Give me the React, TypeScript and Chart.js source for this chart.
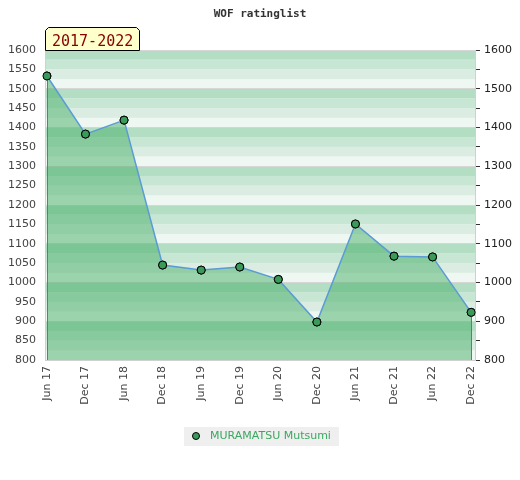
import React, { useEffect, useRef } from "react";
import { Chart, registerables } from "chart.js";

Chart.register(...registerables);

const chartTitle = "WOF ratinglist";
const periodLabel = "2017-2022";
const seriesName = "MURAMATSU Mutsumi";
const periodLabels = [
  "Jun 17", "Dec 17", "Jun 18", "Dec 18", "Jun 19", "Dec 19",
  "Jun 20", "Dec 20", "Jun 21", "Dec 21", "Jun 22", "Dec 22",
];
const ratings = [1533, 1383, 1419, 1045, 1032, 1040, 1008, 898, 1151, 1068, 1066, 923];
const yMin = 800;
const yMax = 1600;

const bandColors = ["#eff7f2", "#dbede2", "#c8e6d4", "#b3dec4"];

const decorPlugin = {
  id: "decor",
  beforeDraw(chart: any) {
    const { ctx, chartArea } = chart;
    const y = chart.scales.y;
    ctx.save();
    for (let lo = yMin; lo < yMax; lo += 25) {
      const idx = ((lo % 100) / 25) | 0;
      const top = y.getPixelForValue(lo + 25);
      const bot = y.getPixelForValue(lo);
      ctx.fillStyle = bandColors[idx];
      ctx.fillRect(chartArea.left, top, chartArea.right - chartArea.left, bot - top);
    }
    ctx.restore();
  },
  afterDatasetsDraw(chart: any) {
    const { ctx, chartArea } = chart;
    const meta = chart.getDatasetMeta(0);
    const pts = meta.data;
    ctx.save();
    ctx.strokeStyle = "#2e9e50";
    ctx.lineWidth = 1;
    [pts[0], pts[pts.length - 1]].forEach((p: any) => {
      ctx.beginPath();
      ctx.moveTo(Math.round(p.x) + 0.5, p.y);
      ctx.lineTo(Math.round(p.x) + 0.5, chartArea.bottom);
      ctx.stroke();
    });
    ctx.restore();
    meta.data.forEach((p: any) => p.draw(ctx, chartArea));
  },
  afterDraw(chart: any) {
    const { ctx, chartArea, width } = chart;
    ctx.save();
    ctx.fillStyle = "#333";
    ctx.font = "bold 11px 'DejaVu Sans Mono'";
    ctx.textAlign = "center";
    ctx.textBaseline = "alphabetic";
    ctx.fillText(chartTitle, width / 2, 17);

    const x0 = chartArea.left, x1 = chartArea.left + 95, y0 = 27, y1 = chartArea.top;
    ctx.beginPath();
    ctx.moveTo(x0 + 0.5, y1 + 0.5);
    ctx.lineTo(x0 + 0.5, y0 + 3.5);
    ctx.lineTo(x0 + 3.5, y0 + 0.5);
    ctx.lineTo(x1 - 3.5, y0 + 0.5);
    ctx.lineTo(x1 - 0.5, y0 + 3.5);
    ctx.lineTo(x1 - 0.5, y1 + 0.5);
    ctx.closePath();
    ctx.fillStyle = "#ffffcc";
    ctx.fill();
    ctx.strokeStyle = "#000";
    ctx.lineWidth = 1;
    ctx.stroke();
    ctx.fillStyle = "#880000";
    ctx.font = "15px 'DejaVu Sans Mono'";
    ctx.textAlign = "left";
    ctx.fillText(periodLabel, x0 + 7, 46);

    const ds = chart.data.datasets[0];
    ctx.font = "11px 'DejaVu Sans'";
    const tw = ctx.measureText(ds.label).width;
    const boxW = tw + 34;
    const bx = Math.round(width / 2 - boxW / 2 + 1);
    const by = 427;
    ctx.fillStyle = "#efefef";
    ctx.fillRect(bx, by, boxW, 19);
    ctx.beginPath();
    ctx.arc(bx + 12, by + 9, 3.5, 0, Math.PI * 2);
    ctx.fillStyle = ds.pointBackgroundColor;
    ctx.fill();
    ctx.strokeStyle = "#000";
    ctx.stroke();
    ctx.fillStyle = "#3aa860";
    ctx.textBaseline = "middle";
    ctx.fillText(ds.label, bx + 26, by + 9.5);
    ctx.restore();
  },
};

export default function App() {
  const ref = useRef<HTMLCanvasElement>(null);
  useEffect(() => {
    document.body.style.margin = "0";
    const canvas = ref.current!;
    const chart = new Chart(canvas, {
      type: "line",
      data: {
        datasets: [
          {
            label: seriesName,
            data: ratings.map((v, i) => ({ x: i, y: v })),
            borderColor: "#5b9bd5",
            borderWidth: 1.5,
            backgroundColor: "rgba(61,171,96,0.47)",
            fill: "start",
            tension: 0,
            pointRadius: 4,
            pointBackgroundColor: "#3a9a5a",
            pointBorderColor: "#000",
            pointBorderWidth: 1,
          },
        ],
      },
      options: {
        responsive: false,
        animation: false,
        devicePixelRatio: 1,
        layout: { padding: { top: 50, left: 0, right: 0, bottom: 0 } },
        plugins: {
          legend: { display: false },
          title: { display: false },
          tooltip: { enabled: false },
        },
        scales: {
          x: {
            type: "linear",
            min: -0.05,
            max: 11.1,
            afterBuildTicks: (s: any) => {
              s.ticks = periodLabels.map((_, i) => ({ value: i }));
            },
            afterFit: (s: any) => {
              s.height = 120;
            },
            ticks: {
              autoSkip: false,
              minRotation: 90,
              maxRotation: 90,
              padding: 6,
              color: "#444",
              font: { family: "'DejaVu Sans'", size: 11 },
              callback: (v: any) => periodLabels[Math.round(v)] ?? "",
            },
            grid: { drawOnChartArea: false, drawTicks: false },
            border: { display: true, color: "#d0d0d0" },
          },
          y: {
            position: "left",
            min: yMin,
            max: yMax,
            afterFit: (s: any) => {
              s.width = 45;
            },
            ticks: {
              stepSize: 50,
              padding: 9,
              color: "#444",
              font: { family: "'DejaVu Sans'", size: 11 },
              callback: (v: any) => String(v),
            },
            grid: {
              drawTicks: false,
              color: (c: any) => (c.tick && c.tick.value % 100 === 0 ? "#d6d6d6" : "rgba(0,0,0,0)"),
            },
            border: { display: true, color: "#d0d0d0" },
          },
          y2: {
            position: "right",
            min: yMin,
            max: yMax,
            afterFit: (s: any) => {
              s.width = 45;
            },
            ticks: {
              stepSize: 50,
              padding: 4,
              color: "#222",
              font: { family: "'DejaVu Sans'", size: 11 },
              callback: (v: any) => (v % 100 === 0 ? String(v) : ""),
            },
            grid: {
              drawOnChartArea: false,
              drawTicks: true,
              tickLength: 5,
              tickColor: "#333",
            },
            border: { display: true, color: "#d0d0d0" },
          },
        },
      },
      plugins: [decorPlugin],
    });
    return () => chart.destroy();
  }, []);
  return <canvas ref={ref} width={520} height={480} style={{ display: "block" }} />;
}
